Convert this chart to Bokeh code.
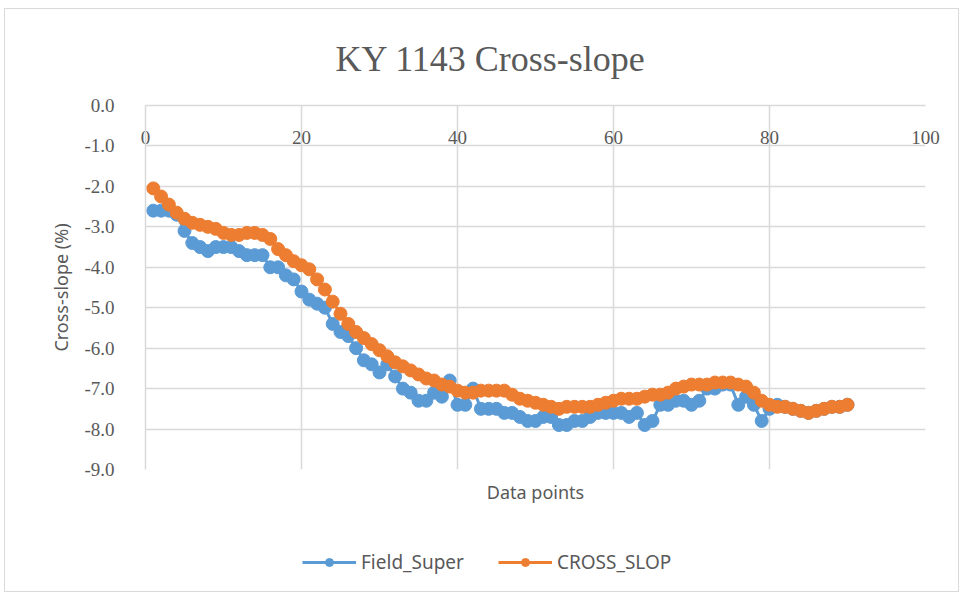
from bokeh.plotting import figure
from bokeh.layouts import column
from bokeh.models import (FixedTicker, NumeralTickFormatter, Range1d, Legend, LegendItem,
                          ColumnDataSource, Title, LinearAxis)
from bokeh.embed import file_html
from bokeh.resources import INLINE

x_points = list(range(1, 91))

field_super = [
    -2.6, -2.6, -2.6, -2.7, -3.1, -3.4, -3.5, -3.6, -3.5, -3.5,
    -3.5, -3.6, -3.7, -3.7, -3.7, -4.0, -4.0, -4.2, -4.3, -4.6,
    -4.8, -4.9, -5.0, -5.4, -5.6, -5.7, -6.0, -6.3, -6.4, -6.6,
    -6.4, -6.7, -7.0, -7.1, -7.3, -7.3, -7.1, -7.2, -6.8, -7.4,
    -7.4, -7.0, -7.5, -7.5, -7.5, -7.6, -7.6, -7.7, -7.8, -7.8,
    -7.7, -7.7, -7.9, -7.9, -7.8, -7.8, -7.7, -7.6, -7.6, -7.6,
    -7.6, -7.7, -7.6, -7.9, -7.8, -7.4, -7.4, -7.3, -7.3, -7.4,
    -7.3, -7.0, -7.0, -6.9, -6.9, -7.4, -7.2, -7.4, -7.8, -7.5,
    -7.4, -7.45, -7.5, -7.55, -7.6, -7.55, -7.5, -7.45, -7.45, -7.4,
]

cross_slop = [
    -2.05, -2.25, -2.45, -2.65, -2.8, -2.9, -2.95, -3.0, -3.05, -3.15,
    -3.2, -3.2, -3.15, -3.15, -3.2, -3.3, -3.55, -3.7, -3.85, -3.95,
    -4.05, -4.3, -4.55, -4.85, -5.15, -5.4, -5.6, -5.75, -5.9, -6.05,
    -6.2, -6.35, -6.45, -6.55, -6.65, -6.75, -6.8, -6.9, -6.95, -7.05,
    -7.1, -7.1, -7.05, -7.05, -7.05, -7.05, -7.15, -7.25, -7.3, -7.35,
    -7.4, -7.45, -7.5, -7.45, -7.45, -7.45, -7.45, -7.4, -7.35, -7.3,
    -7.25, -7.25, -7.25, -7.2, -7.15, -7.15, -7.1, -7.0, -6.95, -6.9,
    -6.9, -6.9, -6.85, -6.85, -6.85, -6.9, -6.95, -7.1, -7.3, -7.4,
    -7.45, -7.45, -7.5, -7.55, -7.6, -7.55, -7.5, -7.45, -7.45, -7.4,
]

x_ticks = [0, 20, 40, 60, 80, 100]
y_ticks = [0.0, -1.0, -2.0, -3.0, -4.0, -5.0, -6.0, -7.0, -8.0, -9.0]

series_names = ["Field_Super", "CROSS_SLOP"]
series_colors = ["#5B9BD5", "#ED7D31"]

GRID = "#d9d9d9"
TXT = "#595959"

p = figure(width=953, height=527, output_backend="svg", toolbar_location=None,
           x_range=Range1d(0, 100), y_range=Range1d(-9, 0), x_axis_location="above",
           min_border_left=140, min_border_right=33, min_border_top=96, min_border_bottom=67)
p.outline_line_color = None
p.background_fill_color = "white"
p.border_fill_color = "white"

p.title = Title(text="KY 1143 Cross-slope", text_font="Liberation Serif", text_font_size="36px",
                text_font_style="normal", text_color=TXT, align="left", offset=190, standoff=53)

# grid
p.xgrid.ticker = FixedTicker(ticks=x_ticks)
p.ygrid.ticker = FixedTicker(ticks=y_ticks)
p.xgrid.grid_line_color = GRID
p.ygrid.grid_line_color = GRID
p.xgrid.grid_line_width = 1.5
p.ygrid.grid_line_width = 1.5

# y axis
p.yaxis.ticker = FixedTicker(ticks=y_ticks)
p.yaxis.formatter = NumeralTickFormatter(format="0.0")
p.yaxis.axis_line_color = GRID
p.yaxis.axis_line_width = 1.5
p.yaxis.major_tick_line_color = None
p.yaxis.minor_tick_line_color = None
p.yaxis.major_label_text_font = "Liberation Serif"
p.yaxis.major_label_text_font_size = "19px"
p.yaxis.major_label_text_color = TXT
p.yaxis.major_label_standoff = 25
p.yaxis.axis_label = "Cross-slope (%)"
p.yaxis.axis_label_text_font = "Noto Sans"
p.yaxis.axis_label_text_font_size = "18px"
p.yaxis.axis_label_text_font_style = "normal"
p.yaxis.axis_label_text_color = TXT
p.yaxis.axis_label_standoff = 8

# x axis above (crosses at 0), labels pushed under the line like Excel
p.xaxis.ticker = FixedTicker(ticks=x_ticks)
p.xaxis.axis_line_color = GRID
p.xaxis.axis_line_width = 1.5
p.xaxis.major_tick_line_color = None
p.xaxis.minor_tick_line_color = None
p.xaxis.major_label_text_font = "Liberation Serif"
p.xaxis.major_label_text_font_size = "19px"
p.xaxis.major_label_text_color = TXT
p.xaxis.major_label_standoff = -44

# bottom axis holding only the title
bx = LinearAxis(ticker=FixedTicker(ticks=[]), axis_line_color=None,
                major_tick_line_color=None, minor_tick_line_color=None,
                axis_label="Data points", axis_label_text_font="Noto Sans",
                axis_label_text_font_size="18px", axis_label_text_font_style="normal",
                axis_label_text_color=TXT, axis_label_standoff=10)
p.add_layout(bx, "below")

for vals, col in zip([field_super, cross_slop], series_colors):
    src = ColumnDataSource(dict(x=x_points, y=vals))
    p.line("x", "y", source=src, line_color=col, line_width=3)
    p.scatter("x", "y", source=src, size=13, fill_color=col, line_color=col)

# legend strip below the chart (its series lie outside its visible range)
lg = figure(width=953, height=55, output_backend="svg", toolbar_location=None,
            x_axis_type=None, y_axis_type=None, x_range=Range1d(0, 100), y_range=Range1d(1, 2),
            min_border=0)
lg.outline_line_color = None
lg.grid.visible = False
items = []
for name, vals, col in zip(series_names, [field_super, cross_slop], series_colors):
    e = ColumnDataSource(dict(x=x_points, y=vals))
    r1 = lg.line("x", "y", source=e, line_color=col, line_width=3)
    r2 = lg.scatter("x", "y", source=e, size=13, fill_color=col, line_color=col)
    items.append(LegendItem(label=name, renderers=[r1, r2]))
legend = Legend(items=items, orientation="horizontal", location=(157, 16),
                label_text_font="Noto Sans", label_text_font_size="19px", label_text_color=TXT,
                border_line_color=None, background_fill_alpha=0, glyph_width=54,
                label_standoff=5, spacing=34, padding=0, margin=0)
lg.add_layout(legend, "center")

layout = column(p, lg, spacing=0, margin=(8, 0, 0, 4),
                styles={"border": "1px solid #d9d9d9"})
open("out.html", "w").write(file_html(layout, INLINE))
